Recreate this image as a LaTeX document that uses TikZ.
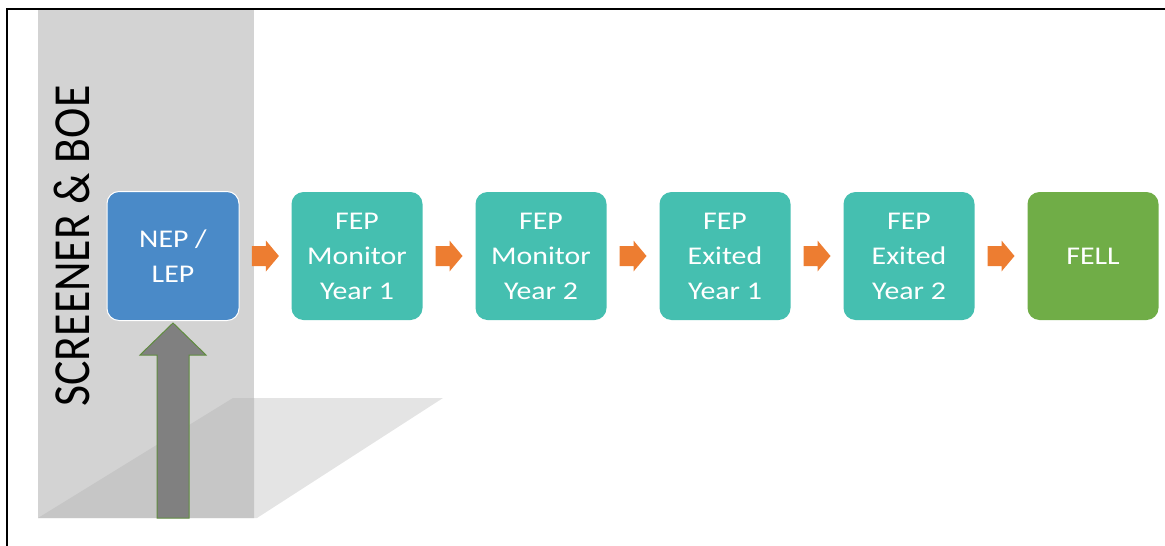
\documentclass[tikz,border=0pt]{standalone}
\usepackage{fontspec}
\setmainfont{Carlito}
\newfontfamily\boxfont[FakeStretch=1.17]{Carlito}
\newfontfamily\sidefont[FakeStretch=0.88]{Carlito}
\usetikzlibrary{positioning, calc}
\definecolor{nepblue}{RGB}{74,138,200}
\definecolor{fepteal}{RGB}{69,191,176}
\definecolor{fellgreen}{RGB}{112,173,71}
\definecolor{steporange}{RGB}{237,125,49}
\definecolor{panelgray}{RGB}{211,211,211}
\definecolor{shadowlight}{RGB}{228,228,228}
\definecolor{shadowdark}{RGB}{198,198,198}
\definecolor{feedgray}{RGB}{128,128,128}
\definecolor{feedgreen}{RGB}{96,140,64}
\tikzset{
    stage/.style={rectangle, rounded corners=12pt, minimum width=131pt, minimum height=128pt,
        inner sep=0pt, text=white, align=center, font=\boxfont\fontsize{25.5}{35}\selectfont},
    nepbox/.style={stage, fill=nepblue, draw=white, line width=1pt,
        minimum width=132pt, minimum height=129pt},
    fepbox/.style={stage, fill=fepteal},
    fellbox/.style={stage, fill=fellgreen},
    flow/.style={fill=steporange},
    feed/.style={fill=feedgray, draw=feedgreen, line width=1pt, line join=miter},
    sidelabel/.style={rotate=90, font=\sidefont\fontsize{52}{60}\selectfont}}

\begin{document}
\begin{tikzpicture}
[x=1pt, y=-1pt, node distance=184pt]
\useasboundingbox (0,0) rectangle (1165,546);
% side panel and its shadow
\fill[shadowlight] (38,518) -- (233,398) -- (443,398) -- (257,518) -- cycle;
\fill[panelgray] (38,10) rectangle (254,518);
\begin{scope}
    \clip (38,10) rectangle (254,518);
    \fill[shadowdark] (38,518) -- (233,398) -- (443,398) -- (257,518) -- cycle;
\end{scope}
\draw[line width=2pt] (7,546) -- (7,9) -- (1165,9);
\node[sidelabel] (side) at (72,246) {SCREENER \& BOE};

% stages
\node[nepbox] (nep) at (173,256) {NEP /\\LEP};
\node[fepbox] (m1) [right of = nep] {FEP\\Monitor\\Year 1};
\node[fepbox] (m2) [right of = m1] {FEP\\Monitor\\Year 2};
\node[fepbox] (e1) [right of = m2] {FEP\\Exited\\Year 1};
\node[fepbox] (e2) [right of = e1] {FEP\\Exited\\Year 2};
\node[fellbox] (fell) [right of = e2] {FELL};

% block arrows between the stages
\foreach \a/\b in {nep/m1, m1/m2, m2/e1, e1/e2, e2/fell}
    \fill[flow] ($(\a.east)!0.5!(\b.west)$) ++(-13.5,-10) -- ++(14,0) -- ++(0,-5.5)
        -- ++(13,15.5) -- ++(-13,15.5) -- ++(0,-5.5) -- ++(-14,0) -- cycle;

% intake arrow
\draw[feed] (nep.south) ++(0,2) -- ++(33,32) -- ++(-17,0) -- ++(0,163)
    -- ++(-32,0) -- ++(0,-163) -- ++(-17,0) -- cycle;
\end{tikzpicture}
\end{document}
